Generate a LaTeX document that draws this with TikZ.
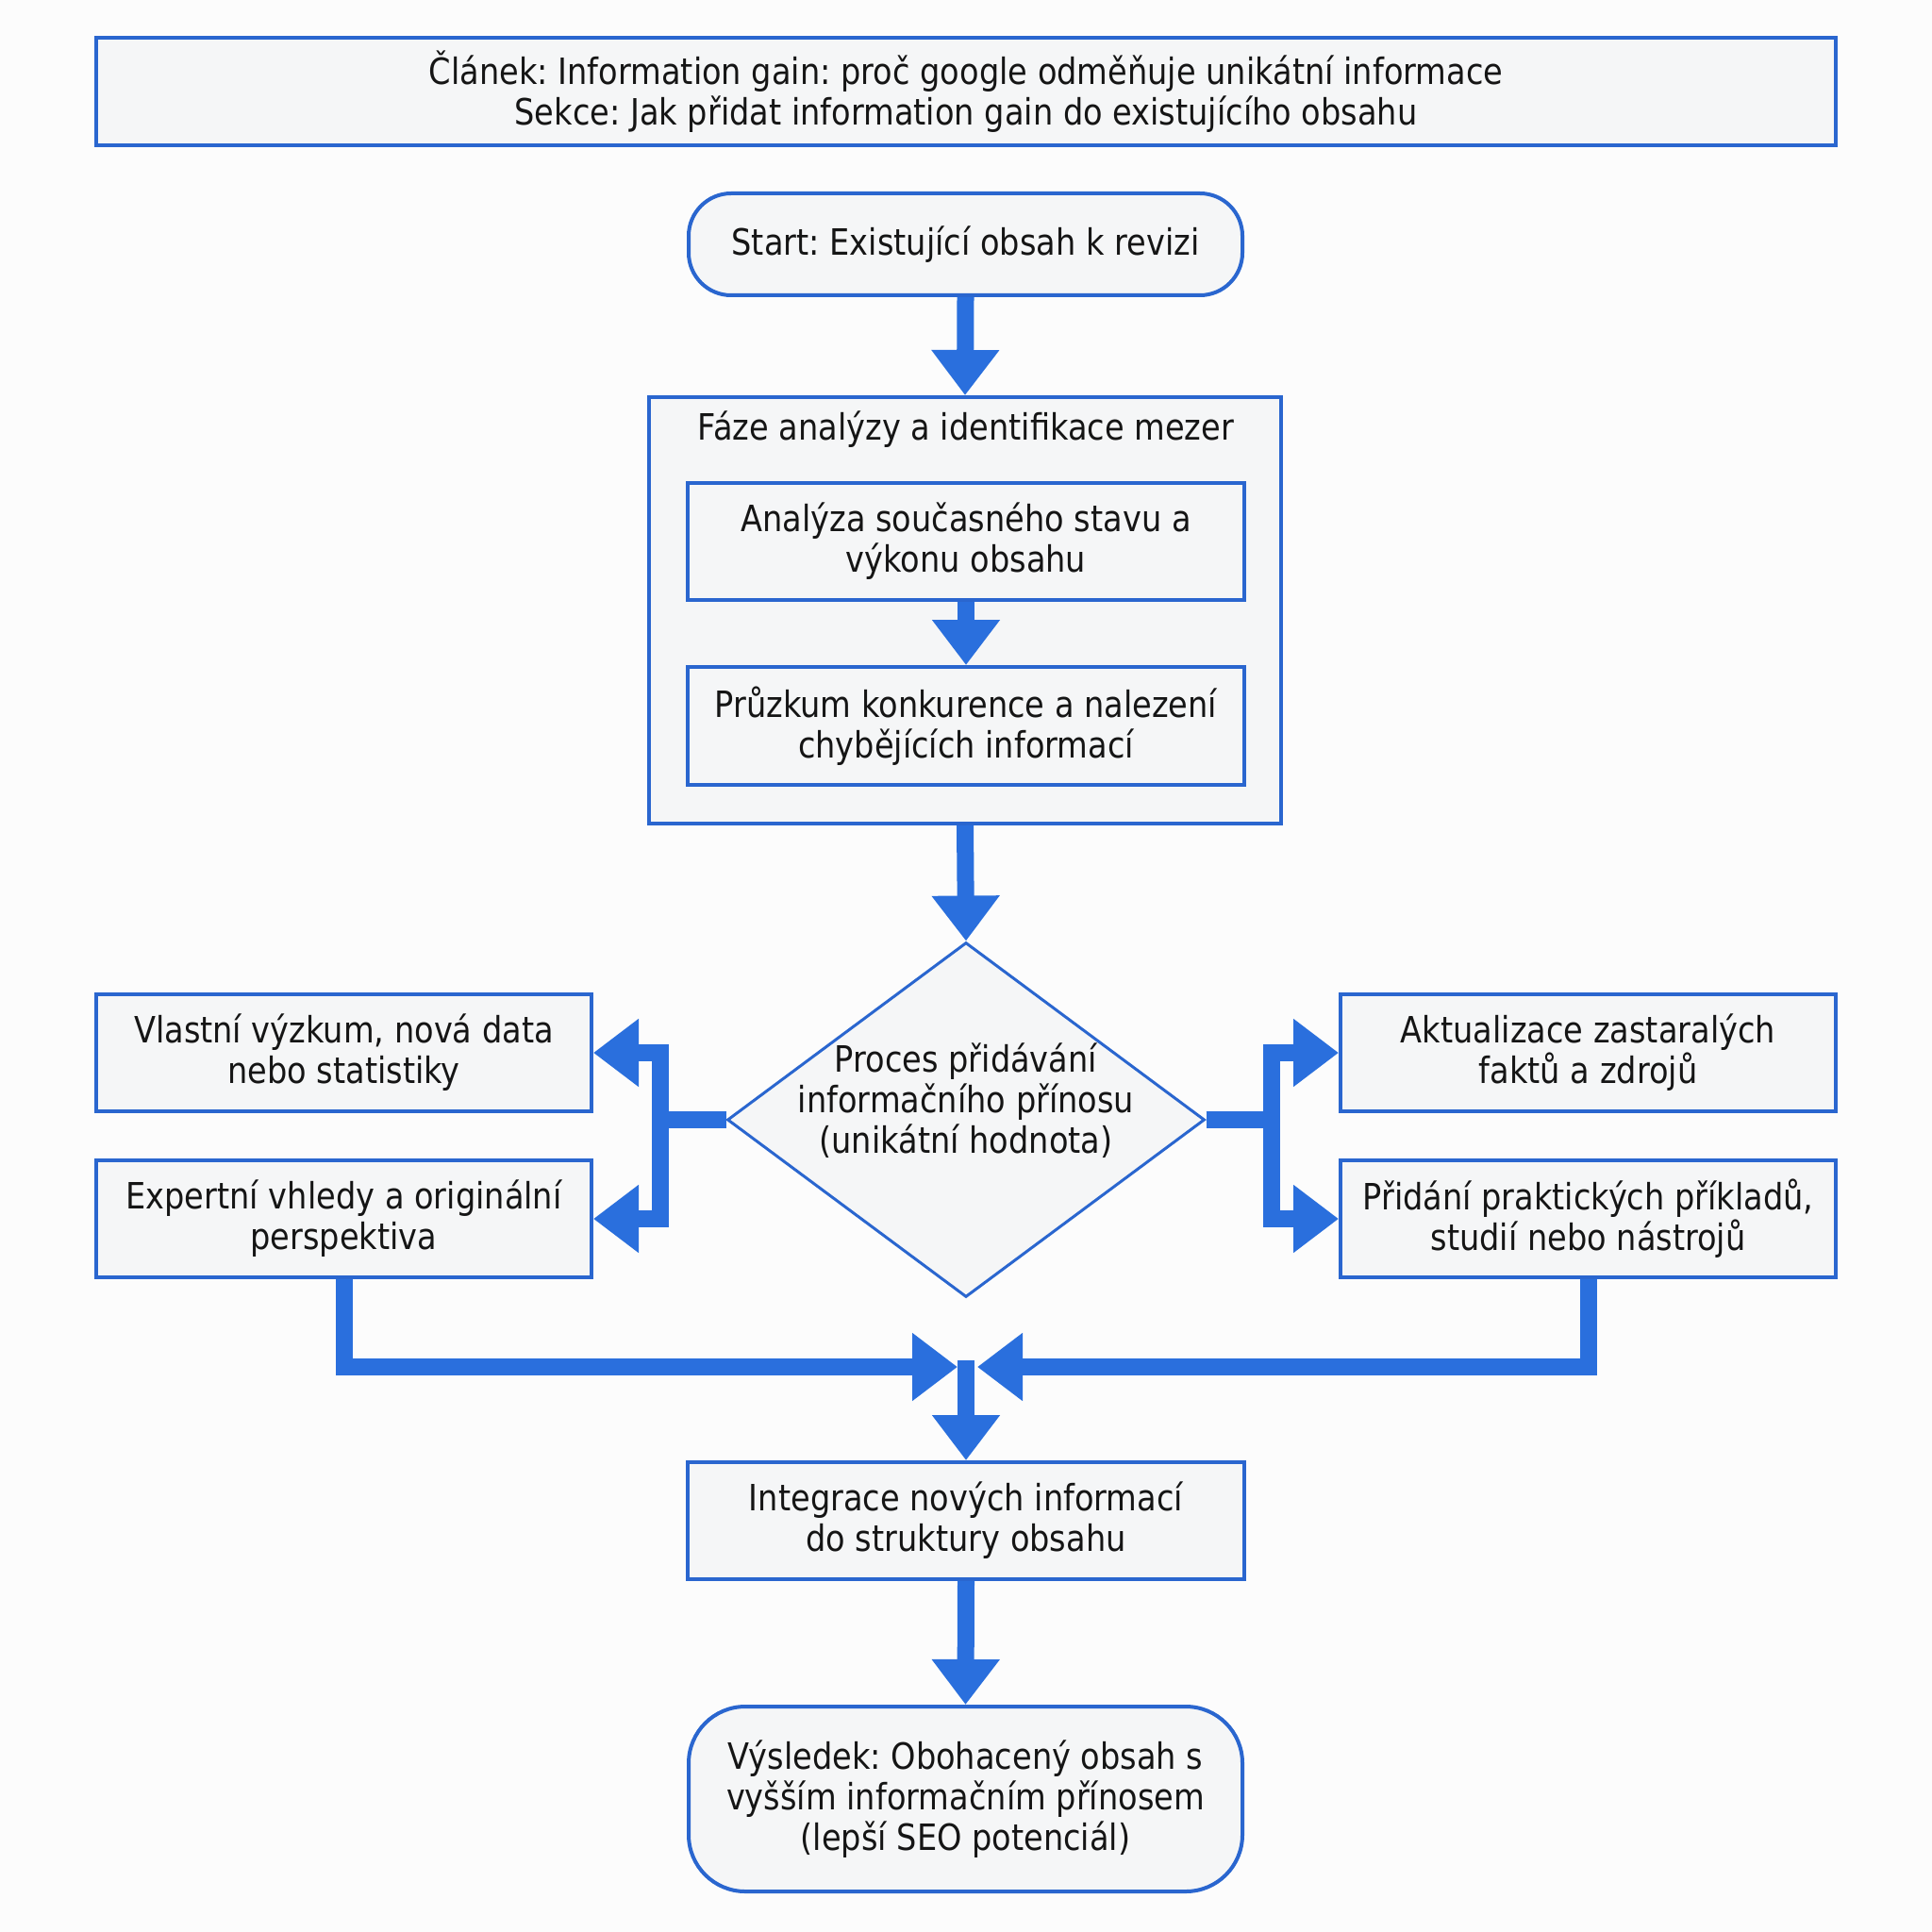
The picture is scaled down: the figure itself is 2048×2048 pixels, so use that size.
\documentclass[tikz,border=0pt]{standalone}
\usepackage{fontspec}
\setmainfont[FakeStretch=0.875]{DejaVu Sans}
\usetikzlibrary{arrows.meta,shapes.geometric}
\definecolor{bg}{HTML}{FCFCFC}
\definecolor{boxfill}{HTML}{F5F6F7}
\definecolor{border}{HTML}{2A66CF}
\definecolor{arrowblue}{HTML}{2A6FDD}
\definecolor{ink}{HTML}{151515}
\frenchspacing
\begin{document}
\begin{tikzpicture}[x=0.5pt,y=-0.5pt,
  every node/.style={font=\fontsize{19.2pt}{21.5pt}\selectfont, text=ink},
  box/.style={draw=border, fill=boxfill, line width=2pt, rectangle, inner sep=0pt, align=center},
  rbox/.style={box, rounded corners=#1},
  flow/.style={draw=arrowblue, line width=9pt, -{Triangle[length=24pt,width=34.5pt]}}
]
\useasboundingbox[fill=bg] (0,0) rectangle (2048,2048);

% title
\node[box, minimum width=922pt, minimum height=57pt] (title) at (1024,97)
  {Článek: Information gain: proč google odměňuje unikátní informace\\Sekce: Jak přidat information gain do existujícího obsahu};

% start
\node[rbox=22.5pt, minimum width=293.5pt, minimum height=54pt] (start) at (1023.5,259)
  {Start: Existující obsah k revizi};

% phase container
\node[box, minimum width=335pt, minimum height=226pt] (phase) at (1023,647) {};
\node (phasetitle) at (1024,455) {Fáze analýzy a identifikace mezer};
\node[box, minimum width=295pt, minimum height=62pt] (an) at (1024,574)
  {Analýza současného stavu a\\výkonu obsahu};
\node[box, minimum width=295pt, minimum height=62.5pt] (pr) at (1024,769.5)
  {Průzkum konkurence a nalezení\\chybějících informací};

% diamond
\node[diamond, draw=border, fill=boxfill, line width=1.5pt, inner sep=0pt,
      minimum width=253pt, minimum height=188pt] (dia) at (1024,1187) {};
\node[align=center] (diatext) at (1024,1167)
  {Proces přidávání\\informačního přínosu\\(unikátní hodnota)};

% side boxes
\node[box, minimum width=262.5pt, minimum height=62pt] (l1) at (364.5,1116)
  {Vlastní výzkum, nová data\\nebo statistiky};
\node[box, minimum width=262.5pt, minimum height=62pt] (l2) at (364.5,1292)
  {Expertní vhledy a originální\\perspektiva};
\node[box, minimum width=262.5pt, minimum height=62pt] (r1) at (1683.5,1116)
  {Aktualizace zastaralých\\faktů a zdrojů};
\node[box, minimum width=262.5pt, minimum height=62pt] (r2) at (1683.5,1292)
  {Přidání praktických příkladů,\\studií nebo nástrojů};

% integration and result
\node[box, minimum width=295pt, minimum height=62pt] (integ) at (1024,1612)
  {Integrace nových informací\\do struktury obsahu};
\node[rbox=30pt, minimum width=293.5pt, minimum height=98pt] (result) at (1023.5,1907)
  {Výsledek: Obohacený obsah s\\vyšším informačním přínosem\\(lepší SEO potenciál)};

% junction coordinates
\coordinate (jl) at (700,1187);
\coordinate (jr) at (1348,1187);
\coordinate (ml) at (1015,1449);
\coordinate (mr) at (1036,1449);
\coordinate (mc) at (1024,1442);

% connectors
\draw[flow] (start.south) -- (phase.north);
\draw[flow] (an.south) -- (pr.north);
\draw[flow] (phase.south) -- (dia.north);
\draw[flow] (dia.west) -- (jl) |- (l1.east);
\draw[flow] (dia.west) -- (jl) |- (l2.east);
\draw[flow] (dia.east) -- (jr) |- (r1.west);
\draw[flow] (dia.east) -- (jr) |- (r2.west);
\draw[flow] (l2.south) |- (ml);
\draw[flow] (r2.south) |- (mr);
\draw[flow] (mc) -- (integ.north);
\draw[flow] (integ.south) -- (result.north);
\end{tikzpicture}
\end{document}
